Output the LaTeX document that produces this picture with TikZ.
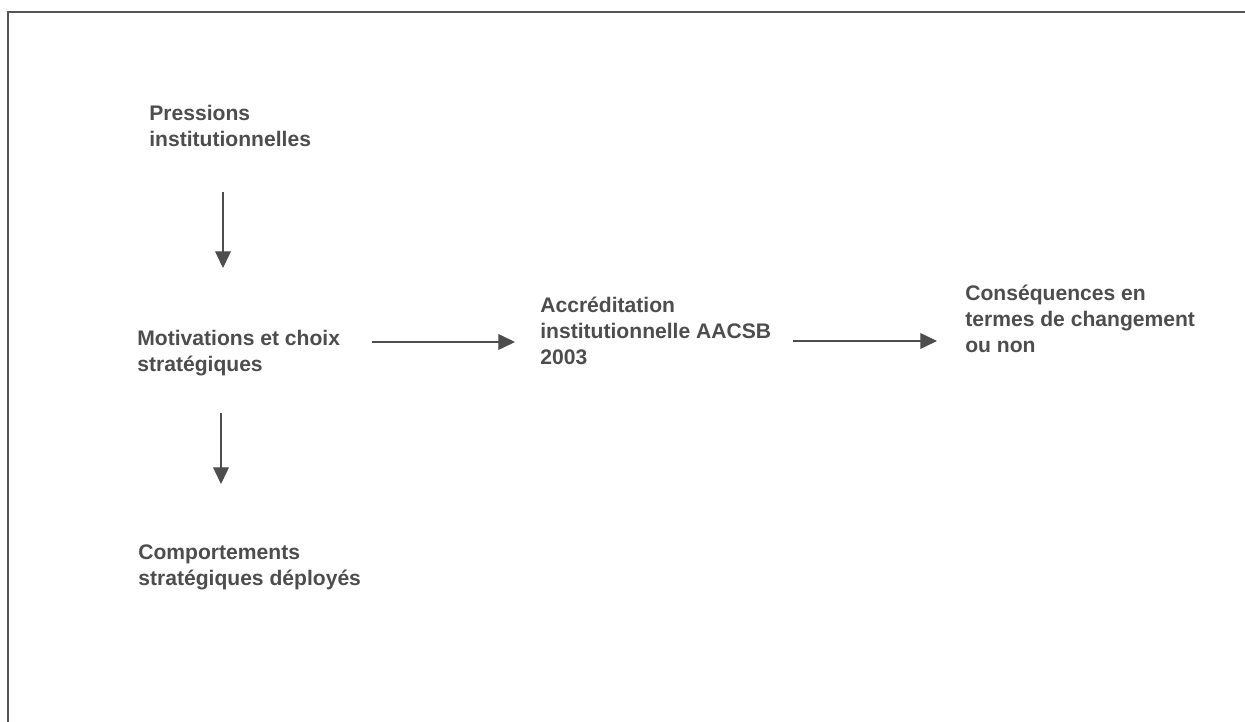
\documentclass[tikz,border=0pt]{standalone}
\usepackage{fontspec}
\setmainfont{Liberation Sans}
\usepackage{tikz}
\usetikzlibrary{calc}
\usetikzlibrary{arrows.meta}
\usetikzlibrary{positioning}
\usepackage{color}
\definecolor{darkgrey}{RGB}{77, 77, 77}
\definecolor{framegrey}{RGB}{85, 85, 85}

\tikzset{
    etape/.style  = {anchor=base west, inner sep=0pt, align=left, text=darkgrey,
                     font=\fontsize{12}{15}\selectfont\bfseries},
    fleche/.style = {draw=darkgrey, line width=0.6pt,
                     -{Triangle[width=9pt,length=9.5pt]}},
}

\begin{document}
\begin{tikzpicture}[x=0.02cm, y=-0.02cm]
        \useasboundingbox (0,0) rectangle (1245,722);
        \draw[framegrey, line width=1.1pt] (1245,12) -- (8,12) -- (8,722);

        % base anchor = last line of each label
        \node[etape] (press)   at (149,147) {Pressions\\institutionnelles};
        \node[etape] (motiv)   at (137,372) {Motivations et choix\\strat\'egiques};
        \node[etape] (comport) at (138,586) {Comportements\\strat\'egiques d\'eploy\'es};
        \node[etape] (accred)  at (540,365) {Accr\'editation\\institutionnelle AACSB\\2003};
        \node[etape] (conseq)  at (965,353) {Cons\'equences en\\termes de changement\\ou non};

        \draw[fleche] ($(press.base west)+(74,45)$)    -- ($(motiv.base west)+(86,-104)$);
        \draw[fleche] ($(motiv.base west)+(84,41)$)    -- ($(comport.base west)+(83,-102)$);
        \draw[fleche] ($(motiv.base west)+(235,-30)$)  -- ($(accred.base west)+(-25,-23)$);
        \draw[fleche] ($(accred.base west)+(253,-24)$) -- ($(conseq.base west)+(-28,-12)$);
\end{tikzpicture}
\end{document}
